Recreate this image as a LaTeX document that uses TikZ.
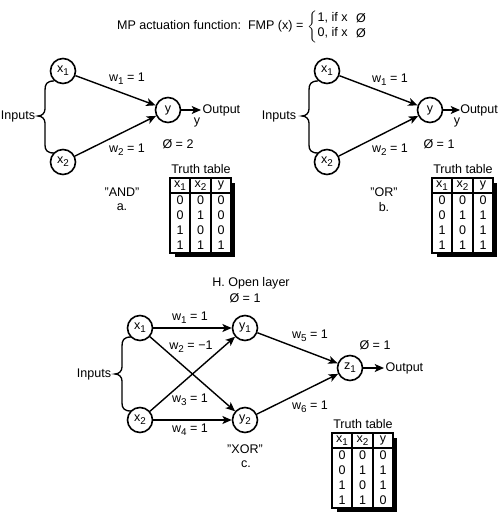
\documentclass[tikz,border=0pt]{standalone}
\usepackage{fontspec}
\setmainfont{Liberation Sans}
\usetikzlibrary{arrows.meta}
\newcommand\lowsub[1]{\raisebox{-0.4ex}{\fontsize{7.4}{7.4}\selectfont #1}}
\tikzset{
 neuron/.style={circle,draw,line width=1.2pt,minimum size=18.75pt,inner sep=0pt,font=\fontsize{9.4}{9.4}\selectfont},
 lbl/.style={inner sep=1pt,font=\fontsize{9.4}{10}\selectfont},
 arr/.style={line width=1.05pt,-{Stealth[length=7pt,width=6pt,inset=1.8pt]}},
 brc/.style={line width=1pt},
 tline/.style={line width=1pt},
}
\newcommand\truthtab[4]{%
 \begin{scope}[shift={(#2,#3)}]
  \fill (61,5) rectangle (65,79);
  \fill (5,75) rectangle (65,79);
  \fill[white] (0,0) rectangle (61,75);
  \draw[tline] (0,0) rectangle (61,75);
  \draw[tline] (0,15) -- (61,15);
  \draw[tline] (20,0) -- (20,75);
  \draw[tline] (41,0) -- (41,75);
  \node[lbl] (#1-title) at (31,-9) {Truth table};
  \node[lbl] (#1-h1) at (10,7.5) {x\lowsub{1}};
  \node[lbl] (#1-h2) at (30.5,7.5) {x\lowsub{2}};
  \node[lbl] (#1-h3) at (51,7) {y};
  \foreach \a/\b/\c [count=\i] in {#4} {
    \node[lbl] (#1-\i-a) at (10,7.5+15*\i) {\a};
    \node[lbl] (#1-\i-b) at (30.5,7.5+15*\i) {\b};
    \node[lbl] (#1-\i-c) at (51,7.5+15*\i) {\c};
  }
 \end{scope}}
\begin{document}
\begin{tikzpicture}[x=0.75pt,y=-0.75pt]
\useasboundingbox (0,0) rectangle (500,517);
% title
\node[lbl,anchor=east] (ttl) at (305,26) {MP actuation function:\ \ FMP (x) =};
\node[inner sep=0pt] (tbr) at (312,27) {$\bigg\{$};
\node[lbl,anchor=west] (c1) at (316,18) {1, if x};
\node[lbl,anchor=west] (c2) at (316,33) {0, if x};
\node[lbl] (t1) at (361,18) {Ø};
\node[lbl] (t2) at (361,33) {Ø};

% ---------- panel a ----------
\node[neuron] (x1a) at (63,71) {x\lowsub{1}};
\node[neuron] (x2a) at (63,162) {x\lowsub{2}};
\node[neuron] (ya) at (168,110) {y};
\node[lbl,anchor=west] (outa) at (201,110) {Output};
\node[lbl] (yya) at (197,122) {y};
\draw[arr] (x1a) -- (ya);
\draw[arr] (x2a) -- (ya);
\draw[arr] (ya) -- (outa);
\node[lbl] (w1a) at (127,79) {w\lowsub{1} = 1};
\node[lbl] (w2a) at (127,150) {w\lowsub{2} = 1};
\node[lbl] (tha) at (178,144) {Ø = 2};
\node[lbl,inner sep=0pt] (ina) at (18,116) {Inputs};
\draw[brc] (54,81) .. controls (47,81) and (45,84) .. (45,90) -- (45,109)
  .. controls (45,113) and (42,116) .. (38,116)
  .. controls (42,116) and (45,119) .. (45,123) -- (45,145)
  .. controls (45,150) and (47,153) .. (54,153);
\node[lbl] (anda) at (122,192) {"AND"};
\node[lbl] (laba) at (122,207) {a.};
\truthtab{ta}{170}{178}{0/0/0,0/1/0,1/0/0,1/1/1}

% ---------- panel b ----------
\node[neuron] (x1b) at (327,71) {x\lowsub{1}};
\node[neuron] (x2b) at (327,162) {x\lowsub{2}};
\node[neuron] (yb) at (430,110) {y};
\node[lbl,anchor=west,inner sep=0pt] (outb) at (460,110) {Output};
\node[lbl] (yyb) at (457,122) {y};
\draw[arr] (x1b) -- (yb);
\draw[arr] (x2b) -- (yb);
\draw[arr] (yb) -- (outb);
\node[lbl] (w1b) at (390,80) {w\lowsub{1} = 1};
\node[lbl] (w2b) at (390,150) {w\lowsub{2} = 1};
\node[lbl] (thb) at (439,144) {Ø = 1};
\node[lbl] (inb) at (279,116) {Inputs};
\draw[brc] (318,81) .. controls (311,81) and (309,84) .. (309,90) -- (309,109)
  .. controls (309,113) and (306,116) .. (302,116)
  .. controls (306,116) and (309,119) .. (309,123) -- (309,145)
  .. controls (309,150) and (311,153) .. (318,153);
\node[lbl] (orb) at (384,192) {"OR"};
\node[lbl] (labb) at (384,207) {b.};
\truthtab{tb}{432}{178}{0/0/0,0/1/1,1/0/1,1/1/1}

% ---------- panel c ----------
\node[lbl] (hol) at (251,283) {H. Open layer};
\node[lbl] (thh) at (245,298) {Ø = 1};
\node[neuron] (x1c) at (140,328) {x\lowsub{1}};
\node[neuron] (x2c) at (140,420) {x\lowsub{2}};
\node[neuron] (y1c) at (245,328) {y\lowsub{1}};
\node[neuron] (y2c) at (245,420) {y\lowsub{2}};
\node[neuron] (z1c) at (350,368) {z\lowsub{1}};
\node[lbl,anchor=west] (outc) at (384,368) {Output};
\draw[arr] (x1c) -- (y1c);
\draw[arr] (x1c) -- (y2c);
\draw[arr] (x2c) -- (y1c);
\draw[arr] (x2c) -- (y2c);
\draw[arr] (y1c) -- (z1c);
\draw[arr] (y2c) -- (z1c);
\draw[arr] (z1c) -- (outc);
\node[lbl] (w1c) at (190,318) {w\lowsub{1} = 1};
\node[lbl] (w2c) at (191,347) {w\lowsub{2} = −1};
\node[lbl] (w3c) at (190,400) {w\lowsub{3} = 1};
\node[lbl] (w4c) at (190,430) {w\lowsub{4} = 1};
\node[lbl] (w5c) at (310,336) {w\lowsub{5} = 1};
\node[lbl] (w6c) at (310,407) {w\lowsub{6} = 1};
\node[lbl] (thc) at (375,345) {Ø = 1};
\node[lbl] (inc) at (94,374) {Inputs};
\draw[brc] (131,337) .. controls (124,337) and (122,340) .. (122,346) -- (122,367)
  .. controls (122,371) and (119,374) .. (115,374)
  .. controls (119,374) and (122,377) .. (122,381) -- (122,403)
  .. controls (122,408) and (124,411) .. (131,411);
\node[lbl] (xorc) at (245,449) {"XOR"};
\node[lbl] (labc) at (246,464) {c.};
\truthtab{tc}{332}{433}{0/0/0,0/1/1,1/0/1,1/1/0}
\end{tikzpicture}
\end{document}
